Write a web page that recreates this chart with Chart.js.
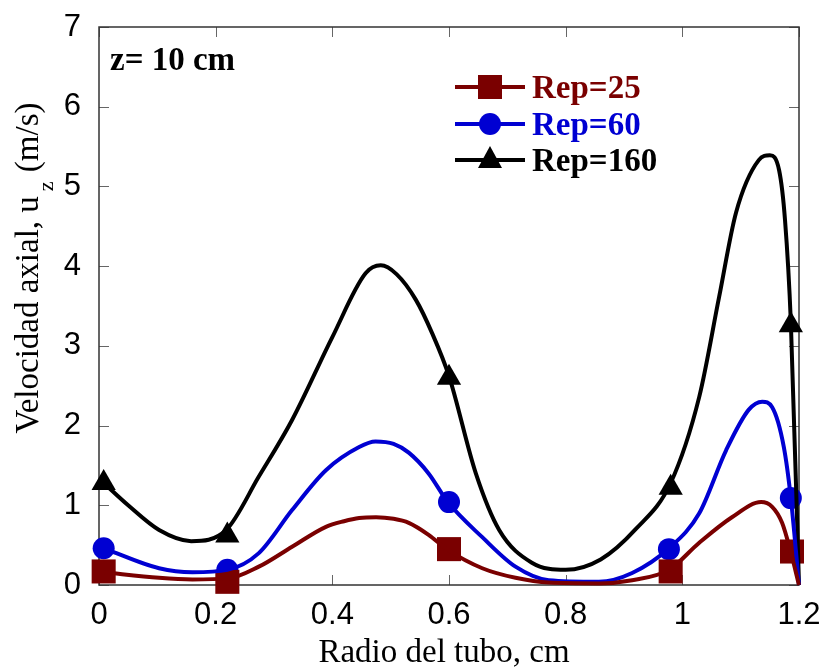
<!DOCTYPE html>
<html>
<head>
<meta charset="utf-8">
<script src="https://cdn.jsdelivr.net/npm/chart.js@4"></script>
<style>
  body { margin: 0; background: #fff; }
  canvas { display: block; }
</style>
</head>
<body>
<canvas id="velCanvas" width="827" height="670"></canvas>
<script>
// perfiles de velocidad axial, z = 10 cm
const xTickVals = [0, 0.2, 0.4, 0.6, 0.8, 1, 1.2];
const yTickVals = [0, 1, 2, 3, 4, 5, 6, 7];

// Rep=25 (curva)
const rep25X = [0.008, 0.103, 0.16, 0.22, 0.274, 0.331, 0.389, 0.42, 0.446, 0.475, 0.505, 0.531, 0.565, 0.598, 0.657, 0.714, 0.771, 0.857, 0.914, 0.977, 1.029, 1.085, 1.135, 1.154, 1.171, 1.186, 1.2];
const rep25Y = [0.16, 0.09, 0.07, 0.08, 0.23, 0.48, 0.73, 0.8, 0.84, 0.85, 0.83, 0.78, 0.63, 0.44, 0.21, 0.09, 0.03, 0.02, 0.06, 0.19, 0.53, 0.85, 1.04, 0.98, 0.78, 0.41, 0];
// Rep=60
const rep60X = [0.008, 0.103, 0.16, 0.22, 0.274, 0.331, 0.389, 0.446, 0.474, 0.505, 0.531, 0.565, 0.598, 0.657, 0.714, 0.771, 0.857, 0.914, 0.977, 1.029, 1.075, 1.114, 1.137, 1.154, 1.174, 1.186, 1.2];
const rep60Y = [0.46, 0.21, 0.16, 0.19, 0.4, 0.94, 1.44, 1.73, 1.8, 1.77, 1.66, 1.4, 1.04, 0.6, 0.23, 0.06, 0.04, 0.15, 0.46, 0.9, 1.69, 2.2, 2.3, 2.23, 1.73, 1.09, 0];
// Rep=160
const rep160X = [0.008, 0.05, 0.103, 0.158, 0.218, 0.274, 0.331, 0.4, 0.457, 0.483, 0.51, 0.543, 0.571, 0.6, 0.646, 0.686, 0.742, 0.8, 0.86, 0.92, 0.98, 1.029, 1.063, 1.092, 1.131, 1.15, 1.166, 1.176, 1.186, 1.2];
const rep160Y = [1.28, 1.0, 0.69, 0.55, 0.69, 1.36, 2.07, 3.11, 3.91, 4.01, 3.9, 3.58, 3.16, 2.62, 1.4, 0.69, 0.28, 0.19, 0.32, 0.7, 1.28, 2.36, 3.61, 4.67, 5.33, 5.39, 5.2, 4.58, 3.3, 0];

// marcadores
const mark25X = [0.008, 0.22, 0.6, 0.98, 1.188];
const mark25Y = [0.17, 0.04, 0.45, 0.17, 0.42];
const mark60X = [0.008, 0.22, 0.6, 0.977, 1.186];
const mark60Y = [0.46, 0.19, 1.04, 0.45, 1.09];
const mark160X = [0.008, 0.22, 0.6, 0.98, 1.186];
const mark160Y = [1.28, 0.62, 2.6, 1.22, 3.26];

const RED = 'rgb(122,0,0)';
const BLUE = 'rgb(0,0,210)';
const BLACK = '#000';

const pts = (xs, ys) => xs.map((v, i) => ({ x: v, y: ys[i] }));

function curve(xs, ys, color) {
    return {
        data: pts(xs, ys),
        borderColor: color,
        borderWidth: 4,
        pointRadius: 0,
        cubicInterpolationMode: 'monotone',
        fill: false,
        clip: false
    };
}

function marks(xs, ys, color, style, r) {
    return {
        data: pts(xs, ys),
        showLine: false,
        pointStyle: style,
        pointRadius: r,
        backgroundColor: color,
        borderColor: color,
        borderWidth: 0,
        clip: false
    };
}

const serif = 'Liberation Serif';
const sans = 'Liberation Sans';

const decor = {
    id: 'decor',
    beforeDatasetsDraw(chart) {
        const { ctx, chartArea: a, scales: { x, y } } = chart;
        ctx.save();
        ctx.strokeStyle = '#666';
        ctx.lineWidth = 1;
        xTickVals.forEach(v => {
            const px = Math.round(x.getPixelForValue(v)) + 0.5;
            ctx.beginPath();
            ctx.moveTo(px, a.bottom); ctx.lineTo(px, a.bottom - 10);
            ctx.moveTo(px, a.top); ctx.lineTo(px, a.top + 10);
            ctx.stroke();
        });
        yTickVals.forEach(v => {
            const py = Math.round(y.getPixelForValue(v)) + 0.5;
            ctx.beginPath();
            ctx.moveTo(a.left, py); ctx.lineTo(a.left + 10, py);
            ctx.moveTo(a.right, py); ctx.lineTo(a.right - 10, py);
            ctx.stroke();
        });
        ctx.strokeStyle = '#333';
        ctx.lineWidth = 1.5;
        ctx.strokeRect(a.left, a.top, a.right - a.left, a.bottom - a.top);
        ctx.restore();
    },
    afterDraw(chart) {
        const { ctx } = chart;
        ctx.save();
        ctx.fillStyle = '#000';
        ctx.textBaseline = 'alphabetic';

        // etiqueta z
        ctx.font = 'bold 33px ' + serif;
        ctx.textAlign = 'left';
        ctx.fillText('z= 10 cm', 110, 70);

        // titulo eje x
        ctx.font = '33px ' + serif;
        ctx.textAlign = 'center';
        ctx.fillText('Radio del tubo, cm', 444, 662);

        // titulo eje y con subindice
        const main = 'Velocidad axial, u';
        const tail = ' (m/s)';
        ctx.font = '33px ' + serif;
        const w1 = ctx.measureText(main).width;
        const w3 = ctx.measureText(tail).width;
        ctx.font = '22px ' + serif;
        const w2 = ctx.measureText('z').width + 6;
        const total = w1 + w2 + w3;
        ctx.translate(38, 268);
        ctx.rotate(-Math.PI / 2);
        ctx.textAlign = 'left';
        let sx = -total / 2;
        ctx.font = '33px ' + serif;
        ctx.fillText(main, sx, 0);
        sx += w1 + 5;
        ctx.font = '22px ' + serif;
        ctx.fillText('z', sx, 15);
        sx += w2 - 5;
        ctx.font = '33px ' + serif;
        ctx.fillText(tail, sx, 0);
        ctx.setTransform(1, 0, 0, 1, 0, 0);

        // leyenda
        const items = [
            { label: 'Rep=25', color: RED, style: 'rect', y: 87 },
            { label: 'Rep=60', color: BLUE, style: 'circle', y: 124 },
            { label: 'Rep=160', color: BLACK, style: 'triangle', y: 160 }
        ];
        items.forEach(it => {
            ctx.strokeStyle = it.color;
            ctx.fillStyle = it.color;
            ctx.lineWidth = 4;
            ctx.beginPath();
            ctx.moveTo(455, it.y);
            ctx.lineTo(525, it.y);
            ctx.stroke();
            const cx = 490, cy = it.y;
            ctx.beginPath();
            if (it.style === 'rect') {
                ctx.rect(cx - 12, cy - 12, 24, 24);
            } else if (it.style === 'circle') {
                ctx.arc(cx, cy, 11, 0, Math.PI * 2);
            } else {
                ctx.moveTo(cx, cy - 14);
                ctx.lineTo(cx + 12, cy + 8);
                ctx.lineTo(cx - 12, cy + 8);
                ctx.closePath();
            }
            ctx.fill();
            ctx.font = 'bold 33px ' + serif;
            ctx.textAlign = 'left';
            ctx.fillText(it.label, 532, it.y + 11);
        });
        ctx.restore();
    }
};

const velCanvas = document.getElementById('velCanvas');

const velChart = new Chart(velCanvas, {
    type: 'line',
    data: {
        datasets: [
            curve(rep25X, rep25Y, RED),
            curve(rep60X, rep60Y, BLUE),
            curve(rep160X, rep160Y, BLACK),
            marks(mark25X, mark25Y, RED, 'rect', 17),
            marks(mark60X, mark60Y, BLUE, 'circle', 11),
            marks(mark160X, mark160Y, BLACK, 'triangle', 14)
        ]
    },
    options: {
        responsive: false,
        animation: false,
        devicePixelRatio: 1,
        layout: { padding: { top: 27, right: 28, left: 0, bottom: 0 } },
        plugins: {
            legend: { display: false },
            tooltip: { enabled: false }
        },
        scales: {
            x: {
                type: 'linear',
                min: 0,
                max: 1.2,
                afterBuildTicks: s => { s.ticks = xTickVals.map(v => ({ value: v })); },
                afterFit: s => { s.height = 85; s.paddingLeft = 0; s.paddingRight = 0; },
                grid: { display: false, drawTicks: false },
                border: { display: false },
                ticks: {
                    color: '#000',
                    padding: 12,
                    maxRotation: 0,
                    font: { family: sans, size: 31 },
                    callback: v => String(+v.toFixed(1))
                }
            },
            y: {
                type: 'linear',
                min: 0,
                max: 7,
                afterBuildTicks: s => { s.ticks = yTickVals.map(v => ({ value: v })); },
                afterFit: s => { s.width = 99; s.paddingTop = 0; s.paddingBottom = 0; },
                grid: { display: false, drawTicks: false },
                border: { display: false },
                ticks: {
                    color: '#000',
                    padding: 18,
                    font: { family: sans, size: 31 },
                    callback: v => String(v)
                }
            }
        }
    },
    plugins: [decor]
});
</script>
</body>
</html>
